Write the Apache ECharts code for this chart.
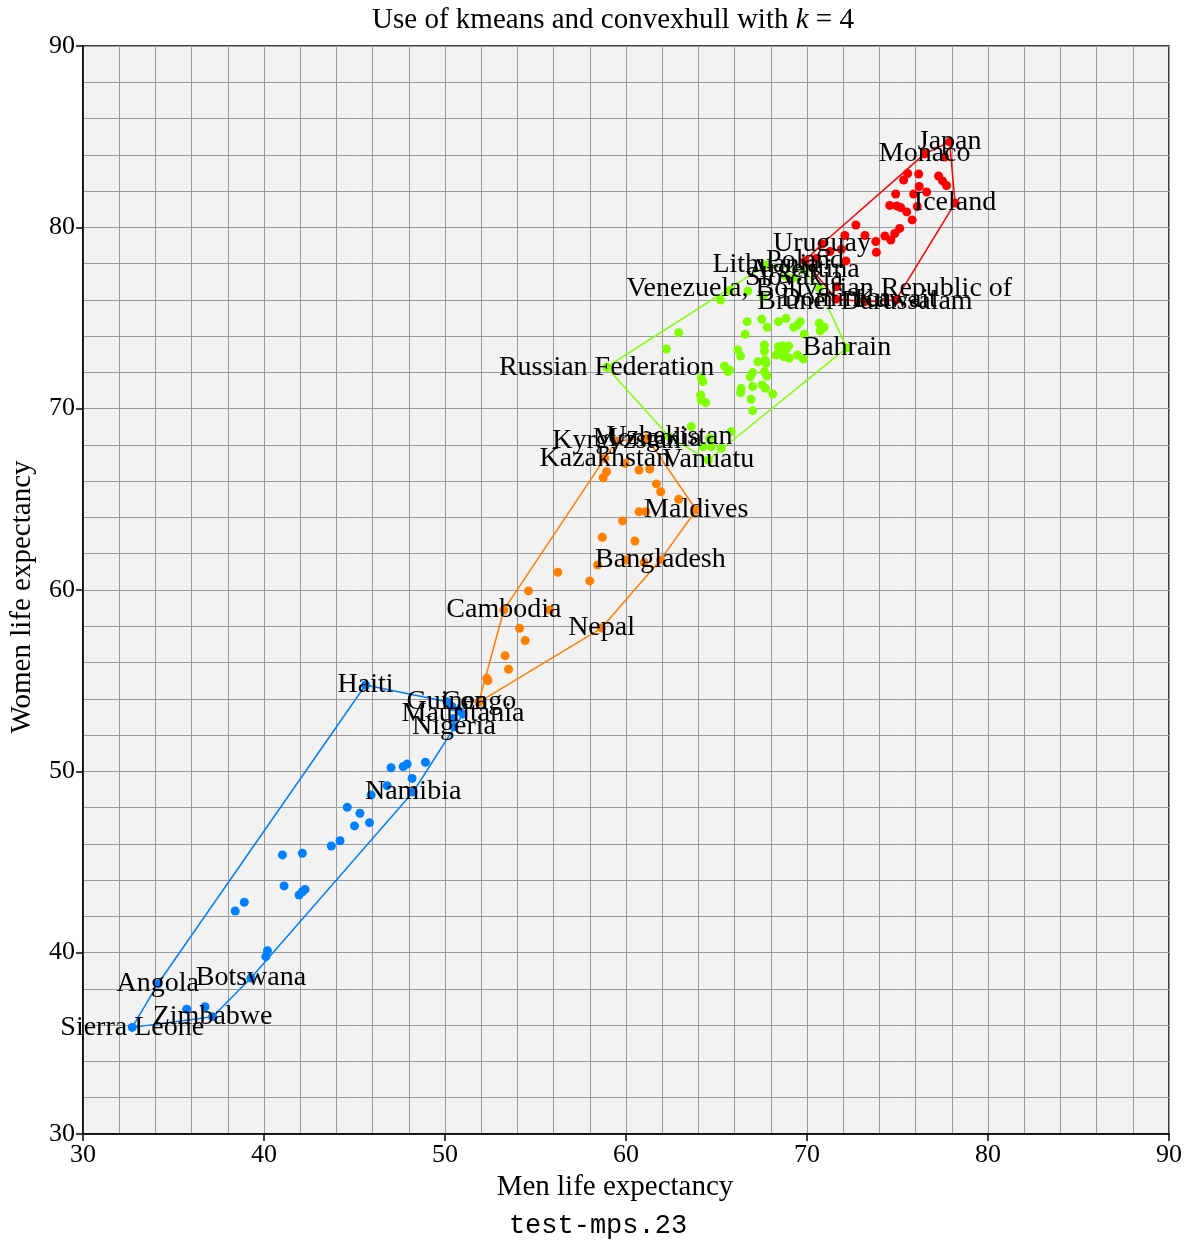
<!DOCTYPE html>
<html>
<head>
<meta charset="utf-8">
<script src="https://cdn.jsdelivr.net/npm/echarts@6/dist/echarts.min.js"></script>
<style>
  html, body { margin: 0; padding: 0; background: #fff; }
  #chart { width: 1196px; height: 1245px; }
</style>
</head>
<body>
<div id="chart"></div>
<script>
// Each cluster: [men, women, optional country label]
const RED = [
  [77.88, 84.71, 'Japan'], [76.50, 84.05, 'Monaco'], [77.60, 83.88], [75.56, 82.97],
  [75.34, 82.61], [76.17, 82.94], [77.27, 82.83], [77.49, 82.56], [77.71, 82.31],
  [76.20, 82.25], [76.61, 81.95], [75.89, 81.84], [74.90, 81.84], [74.57, 81.21],
  [74.96, 81.18], [75.18, 81.09], [75.51, 80.85], [75.81, 80.41], [76.09, 81.15],
  [78.18, 81.34, 'Iceland'], [72.70, 80.13], [75.12, 79.94], [74.85, 79.66],
  [74.30, 79.52], [74.63, 79.30], [73.20, 79.55], [73.80, 79.22], [73.83, 78.62],
  [72.09, 79.55], [71.90, 78.79], [71.27, 78.67], [70.52, 78.28], [72.15, 78.15],
  [69.89, 78.15, 'Poland'], [70.83, 79.08, 'Uruguay'], [71.64, 76.73],
  [71.60, 76.05, 'Dominica'], [73.20, 75.90, 'Brunei Darussalam'], [74.90, 75.99, 'Kuwait'],
];

const GREEN = [
  [58.93, 72.29, 'Russian Federation'], [62.40, 68.44, 'Uzbekistan'], [64.55, 67.17, 'Vanuatu'],
  [72.20, 73.35, 'Bahrain'], [67.74, 77.92, 'Lithuania'], [69.83, 77.65, 'Argentina'],
  [70.68, 76.63, 'Venezuela, Bolivarian Republic of'], [69.28, 77.21, 'Slovakia'],
  [68.79, 77.32], [67.58, 76.16], [62.91, 74.19], [62.23, 73.29], [65.22, 75.99],
  [65.72, 76.51], [66.73, 76.49], [66.69, 74.80], [67.50, 74.93], [67.80, 74.49],
  [66.58, 74.10], [68.42, 74.80], [68.84, 74.98], [69.26, 74.49], [69.63, 74.80],
  [69.48, 74.61], [69.85, 74.10], [70.68, 74.71], [70.95, 74.49], [70.73, 74.30],
  [67.65, 73.51], [67.65, 73.18], [68.42, 73.42], [68.66, 73.46], [68.99, 73.46],
  [68.47, 73.14], [68.84, 73.24], [68.29, 72.96], [68.71, 72.87], [69.02, 72.78],
  [69.48, 72.96], [69.80, 72.74], [66.18, 73.24], [66.33, 72.90], [67.28, 72.59],
  [67.69, 72.68], [67.74, 72.50], [65.44, 72.35], [65.72, 72.13], [65.63, 72.04],
  [64.16, 71.71], [64.25, 71.49], [67.00, 71.99], [66.87, 71.76], [67.65, 72.04],
  [67.78, 71.80], [66.36, 71.12], [66.33, 70.88], [67.00, 71.22], [67.52, 71.31],
  [67.70, 71.12], [68.11, 70.81], [64.12, 70.76], [64.16, 70.48], [64.40, 70.33],
  [66.91, 70.52], [67.00, 69.89], [63.61, 69.01], [65.81, 68.73], [64.62, 68.37],
  [64.71, 67.90], [65.26, 67.82], [64.25, 67.90],
];

const ORANGE = [
  [51.87, 53.82, 'Congo'], [52.31, 55.13], [52.37, 55.00], [53.32, 56.38], [53.51, 55.63],
  [53.25, 58.90, 'Cambodia'], [54.12, 57.89], [54.43, 57.21], [55.80, 58.90], [54.61, 59.95],
  [56.23, 60.98], [58.00, 60.50], [58.65, 57.90, 'Nepal'], [58.43, 61.38], [59.99, 61.66],
  [61.00, 61.51], [61.90, 61.66, 'Bangladesh'], [58.69, 62.91], [60.49, 62.70],
  [59.81, 63.81], [60.72, 64.32], [61.09, 64.32], [63.88, 64.41, 'Maldives'],
  [62.91, 65.00], [61.92, 65.42], [61.68, 65.85], [61.31, 66.67], [60.72, 66.62],
  [58.74, 66.19], [58.93, 66.52], [59.94, 66.98], [58.83, 67.26, 'Kazakhstan'],
  [59.48, 68.22, 'Kyrgyzstan'], [61.17, 68.37, 'Mongolia'],
];

const BLUE = [
  [45.61, 54.76, 'Haiti'], [50.11, 53.84, 'Guinea'], [50.39, 53.57], [50.77, 53.33],
  [50.99, 53.16, 'Mauritania'], [50.48, 52.92], [50.50, 52.45, 'Nigeria'],
  [47.02, 50.20], [47.69, 50.26], [47.91, 50.40], [48.92, 50.50], [46.80, 49.21],
  [48.18, 49.61], [45.92, 48.70], [48.24, 48.86, 'Namibia'], [44.60, 48.02],
  [45.30, 47.69], [45.00, 46.99], [45.83, 47.17], [43.72, 45.88], [44.20, 46.17],
  [41.02, 45.39], [42.12, 45.48], [41.11, 43.68], [41.94, 43.18], [42.12, 43.36],
  [42.27, 43.49], [38.91, 42.78], [38.41, 42.30], [40.19, 40.11], [40.10, 39.78],
  [39.28, 38.60, 'Botswana'], [34.13, 38.27, 'Angola'], [32.72, 35.88, 'Sierra Leone'],
  [35.73, 36.88], [36.74, 37.02], [37.16, 36.47, 'Zimbabwe'],
];

const CLUSTERS = [
  { name: 'c0', pts: BLUE,   color: '#007fff' },
  { name: 'c1', pts: ORANGE, color: '#ff7f00' },
  { name: 'c2', pts: GREEN,  color: '#7fff00' },
  { name: 'c3', pts: RED,    color: '#ff0000' },
];

const AXIS_MIN = 30;
const AXIS_MAX = 90;

const SERIF = '"Liberation Serif", "DejaVu Serif", serif';
const GRID_GRAY = '#9a9a9a';

// Monotone chain convex hull, returned closed
function convexHull(points) {
  const p = points.map((d) => [d[0], d[1]]).sort((a, b) => a[0] - b[0] || a[1] - b[1]);
  const cross = (o, a, b) => (a[0] - o[0]) * (b[1] - o[1]) - (a[1] - o[1]) * (b[0] - o[0]);
  const lower = [];
  for (const pt of p) {
    while (lower.length >= 2 && cross(lower[lower.length - 2], lower[lower.length - 1], pt) <= 0) lower.pop();
    lower.push(pt);
  }
  const upper = [];
  for (let i = p.length - 1; i >= 0; i--) {
    const pt = p[i];
    while (upper.length >= 2 && cross(upper[upper.length - 2], upper[upper.length - 1], pt) <= 0) upper.pop();
    upper.push(pt);
  }
  const h = lower.slice(0, -1).concat(upper.slice(0, -1));
  h.push(h[0]);
  return h;
}

const series = [];
for (const c of CLUSTERS) {
  series.push({
    name: c.name + '-hull',
    type: 'line',
    data: convexHull(c.pts),
    showSymbol: false,
    symbol: 'none',
    silent: true,
    z: 2,
    lineStyle: { color: c.color, width: 1.5 },
  });
  series.push({
    name: c.name,
    type: 'scatter',
    data: c.pts.map((d) => [d[0], d[1]]),
    symbol: 'circle',
    symbolSize: 9,
    z: 3,
    itemStyle: { color: c.color, opacity: 1 },
  });
}

// country names, drawn centred on their points and above everything else
// (scatter defaults to opacity 0.8 and the label inherits it, so force 1)
const labelled = [].concat(...CLUSTERS.map((c) => c.pts.filter((d) => d[2])));
series.push({
  name: 'labels',
  type: 'scatter',
  data: labelled,
  symbolSize: 1,
  z: 10,
  silent: true,
  itemStyle: { color: 'rgba(0,0,0,0)', opacity: 1 },
  label: {
    show: true,
    position: 'inside',
    formatter: (p) => p.data[2],
    color: '#000',
    opacity: 1,
    fontFamily: SERIF,
    fontSize: 28,
  },
  labelLayout: { hideOverlap: false },
});

const axisCommon = {
  type: 'value',
  min: AXIS_MIN,
  max: AXIS_MAX,
  interval: 10,
  axisLine: { show: true, onZero: false, lineStyle: { color: '#000', width: 1.5 } },
  axisTick: { show: true, inside: false, length: 7, lineStyle: { color: '#000', width: 1.5 } },
  axisLabel: { color: '#000', fontFamily: SERIF, fontSize: 26, margin: 8 },
  splitLine: { show: true, lineStyle: { color: GRID_GRAY, width: 1 } },
  minorTick: { show: false, splitNumber: 5 },
  minorSplitLine: { show: true, lineStyle: { color: GRID_GRAY, width: 1 } },
  nameLocation: 'middle',
};

const chart = echarts.init(document.getElementById('chart'));
chart.setOption({
  animation: false,
  backgroundColor: '#ffffff',
  grid: {
    left: 80, top: 46, width: 1089, height: 1088,
    show: true, backgroundColor: '#f2f2f2', borderColor: '#000', borderWidth: 1.5,
  },
  xAxis: Object.assign({}, axisCommon, {
    name: 'Men life expectancy',
    nameGap: 33,
    nameTextStyle: { color: '#000', fontFamily: SERIF, fontSize: 29, padding: [0, 22, 0, 0] },
  }),
  yAxis: Object.assign({}, axisCommon, {
    name: 'Women life expectancy',
    nameGap: 46,
    nameTextStyle: { color: '#000', fontFamily: SERIF, fontSize: 29, padding: [0, 14, 0, 0] },
  }),
  graphic: [
    {
      type: 'text',
      x: 613, y: 20,
      style: {
        text: '{n|Use of kmeans and convexhull with }{i|k}{n| = 4}',
        rich: {
          n: { fontFamily: SERIF, fontSize: 29, fill: '#000', color: '#000' },
          i: { fontFamily: SERIF, fontSize: 29, fontStyle: 'italic', fill: '#000', color: '#000' },
        },
        align: 'center', verticalAlign: 'middle',
        textAlign: 'center', textVerticalAlign: 'middle',
      },
    },
    {
      type: 'text',
      x: 598, y: 1226,
      style: {
        text: 'test-mps.23',
        font: '27px "Liberation Mono", "DejaVu Sans Mono", monospace',
        fill: '#000',
        align: 'center', verticalAlign: 'middle',
        textAlign: 'center', textVerticalAlign: 'middle',
      },
    },
  ],
  series,
});
</script>
</body>
</html>
